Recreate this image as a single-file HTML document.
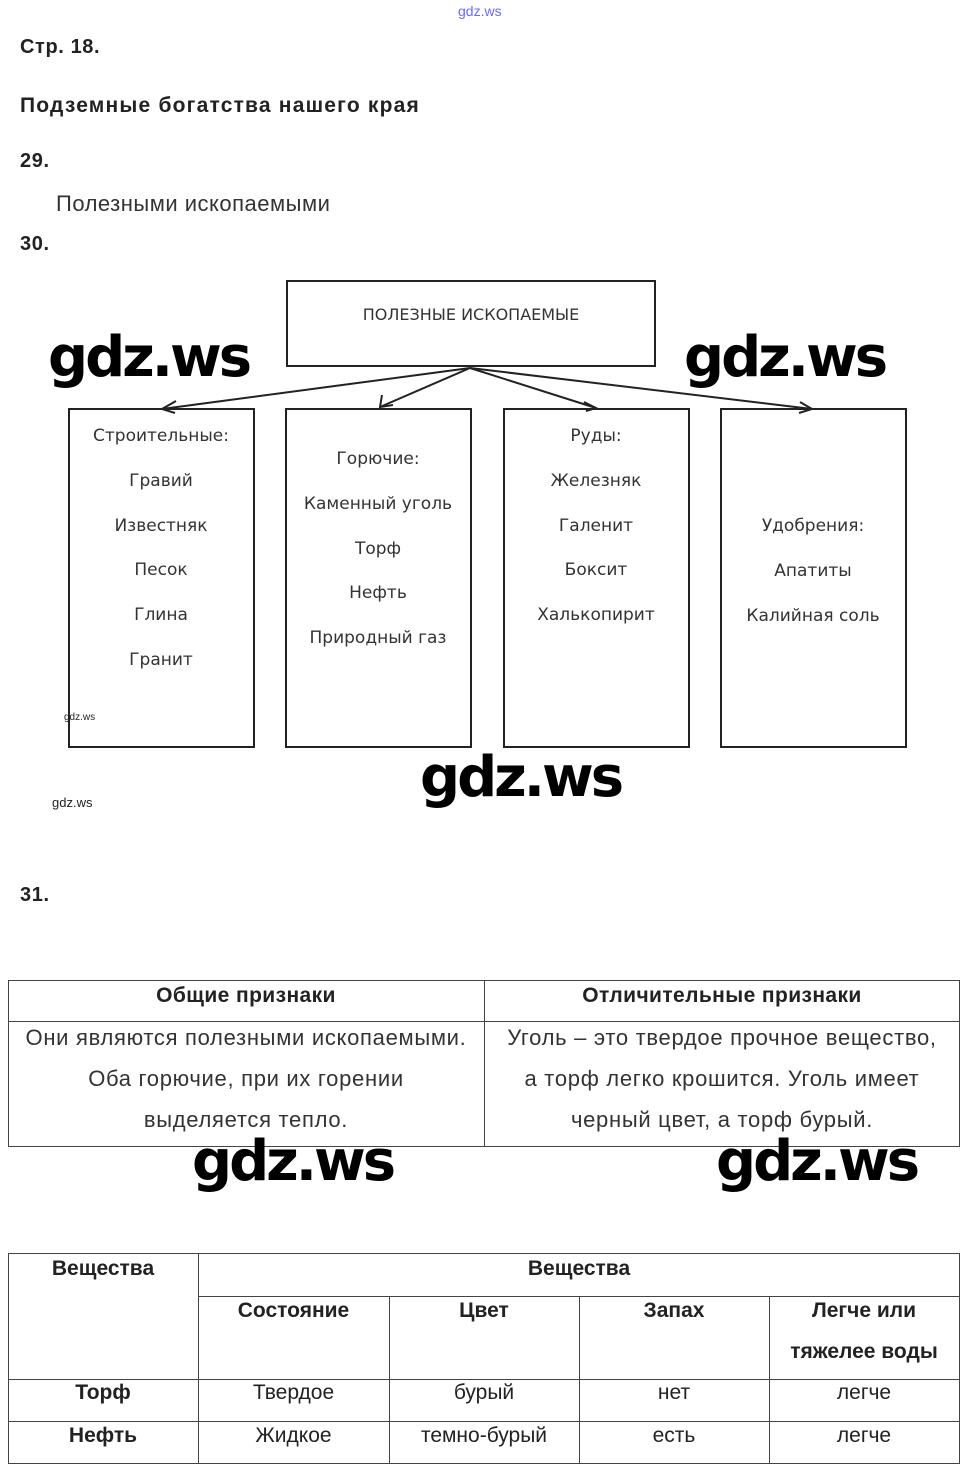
<!DOCTYPE html>
<html><head><meta charset="utf-8"><style>
body{margin:0;width:971px;height:1472px;position:relative;background:#fff;font-family:"Liberation Sans",sans-serif;color:#222;overflow:hidden}
.a{position:absolute;white-space:nowrap}
.b{font-weight:bold;font-size:20px}
.wm{position:absolute;font-family:"DejaVu Sans",sans-serif;font-weight:bold;font-size:56px;color:#000;letter-spacing:-3px;line-height:1}
.box{position:absolute;border:2px solid #222;box-sizing:border-box}
.dt{position:absolute;font-family:"DejaVu Sans",sans-serif;font-size:17px;color:#333;text-align:center;width:186px}
.l{position:absolute;background:#444}
.c{position:absolute;text-align:center;font-size:21px}
</style></head><body>
<div class="a" style="left:458px;top:3px;font-size:14px;color:#6a6aff">gdz.ws</div>
<div class="a b" style="left:20px;top:36px;letter-spacing:0.6px">Стр. 18.</div>
<div class="a b" style="left:20px;top:94px;font-size:21px;letter-spacing:1.2px">Подземные богатства нашего края</div>
<div class="a b" style="left:20px;top:150px;letter-spacing:0.6px">29.</div>
<div class="a" style="left:56px;top:191px;font-size:22px;letter-spacing:0.5px;color:#333">Полезными ископаемыми</div>
<div class="a b" style="left:20px;top:233px;letter-spacing:0.6px">30.</div>

<div class="box" style="left:286px;top:280px;width:370px;height:87px"></div>
<div class="a" style="left:286px;width:370px;text-align:center;top:305px;font-family:'DejaVu Sans',sans-serif;font-size:16px;color:#333">ПОЛЕЗНЫЕ ИСКОПАЕМЫЕ</div>
<svg style="position:absolute;left:0;top:0" width="971" height="420">
<g stroke="#222" stroke-width="2" fill="none">
<line x1="470" y1="368" x2="162" y2="409"/><line x1="470" y1="368" x2="380" y2="407"/>
<line x1="470" y1="368" x2="596" y2="408"/><line x1="470" y1="368" x2="812" y2="409"/>
<polyline points="176,401 162,409 175,413"/><polyline points="382,395 380,407 393,405"/>
<polyline points="584,402 596,408 586,411"/><polyline points="800,402 812,409 799,413"/>
</g></svg>
<div class="box" style="left:68px;top:408px;width:187px;height:340px"></div>
<div class="box" style="left:285px;top:408px;width:187px;height:340px"></div>
<div class="box" style="left:503px;top:408px;width:187px;height:340px"></div>
<div class="box" style="left:720px;top:408px;width:187px;height:340px"></div>
<div class="dt" style="left:68px;top:414px;line-height:44.8px">Строительные:<br>Гравий<br>Известняк<br>Песок<br>Глина<br>Гранит</div>
<div class="dt" style="left:285px;top:437px;line-height:44.8px">Горючие:<br>Каменный уголь<br>Торф<br>Нефть<br>Природный газ</div>
<div class="dt" style="left:503px;top:414px;line-height:44.8px">Руды:<br>Железняк<br>Галенит<br>Боксит<br>Халькопирит</div>
<div class="dt" style="left:720px;top:504px;line-height:44.8px">Удобрения:<br>Апатиты<br>Калийная соль</div>
<div class="a" style="left:64px;top:712px;font-size:10px">gdz.ws</div>
<div class="a" style="left:52px;top:795px;font-size:13px">gdz.ws</div>
<div class="wm" style="left:48px;top:330px">gdz.ws</div>
<div class="wm" style="left:684px;top:330px">gdz.ws</div>
<div class="wm" style="left:420px;top:750px">gdz.ws</div>

<div class="a b" style="left:20px;top:884px;letter-spacing:0.6px">31.</div>
<!-- table 1 -->
<div class="l" style="left:8px;top:980px;width:952px;height:1px"></div>
<div class="l" style="left:8px;top:1021px;width:952px;height:1px"></div>
<div class="l" style="left:8px;top:1146px;width:952px;height:1px"></div>
<div class="l" style="left:8px;top:980px;width:1px;height:167px"></div>
<div class="l" style="left:484px;top:980px;width:1px;height:167px"></div>
<div class="l" style="left:959px;top:980px;width:1px;height:167px"></div>
<div class="c b" style="left:8px;width:476px;top:984px;font-size:21px;letter-spacing:0.4px">Общие признаки</div>
<div class="c b" style="left:484px;width:476px;top:984px;font-size:21px;letter-spacing:0.4px">Отличительные признаки</div>
<div class="c" style="left:8px;width:476px;top:1017px;line-height:41px;font-size:22px;letter-spacing:0.7px;color:#333">Они являются полезными ископаемыми.<br>Оба горючие, при их горении<br>выделяется тепло.</div>
<div class="c" style="left:484px;width:476px;top:1017px;line-height:41px;font-size:22px;letter-spacing:0.7px;color:#333">Уголь – это твердое прочное вещество,<br>а торф легко крошится. Уголь имеет<br>черный цвет, а торф бурый.</div>
<div class="wm" style="left:192px;top:1134px">gdz.ws</div>
<div class="wm" style="left:716px;top:1134px">gdz.ws</div>

<!-- table 2 -->
<div class="l" style="left:8px;top:1253px;width:952px;height:1px"></div>
<div class="l" style="left:198px;top:1296px;width:762px;height:1px"></div>
<div class="l" style="left:8px;top:1379px;width:952px;height:1px"></div>
<div class="l" style="left:8px;top:1421px;width:952px;height:1px"></div>
<div class="l" style="left:8px;top:1463px;width:952px;height:1px"></div>
<div class="l" style="left:8px;top:1253px;width:1px;height:211px"></div>
<div class="l" style="left:198px;top:1253px;width:1px;height:211px"></div>
<div class="l" style="left:389px;top:1296px;width:1px;height:168px"></div>
<div class="l" style="left:579px;top:1296px;width:1px;height:168px"></div>
<div class="l" style="left:769px;top:1296px;width:1px;height:168px"></div>
<div class="l" style="left:959px;top:1253px;width:1px;height:211px"></div>
<div class="c b" style="left:8px;width:190px;top:1257px">Вещества</div>
<div class="c b" style="left:198px;width:762px;top:1257px">Вещества</div>
<div class="c b" style="left:198px;width:191px;top:1299px">Состояние</div>
<div class="c b" style="left:389px;width:190px;top:1299px">Цвет</div>
<div class="c b" style="left:579px;width:190px;top:1299px">Запах</div>
<div class="c b" style="left:769px;width:190px;top:1299px;line-height:41px;margin-top:-9px">Легче или<br>тяжелее воды</div>
<div class="c b" style="left:8px;width:190px;top:1381px">Торф</div>
<div class="c" style="left:198px;width:191px;top:1381px">Твердое</div>
<div class="c" style="left:389px;width:190px;top:1381px">бурый</div>
<div class="c" style="left:579px;width:190px;top:1381px">нет</div>
<div class="c" style="left:769px;width:190px;top:1381px">легче</div>
<div class="c b" style="left:8px;width:190px;top:1424px">Нефть</div>
<div class="c" style="left:198px;width:191px;top:1424px">Жидкое</div>
<div class="c" style="left:389px;width:190px;top:1424px">темно-бурый</div>
<div class="c" style="left:579px;width:190px;top:1424px">есть</div>
<div class="c" style="left:769px;width:190px;top:1424px">легче</div>
</body></html>
